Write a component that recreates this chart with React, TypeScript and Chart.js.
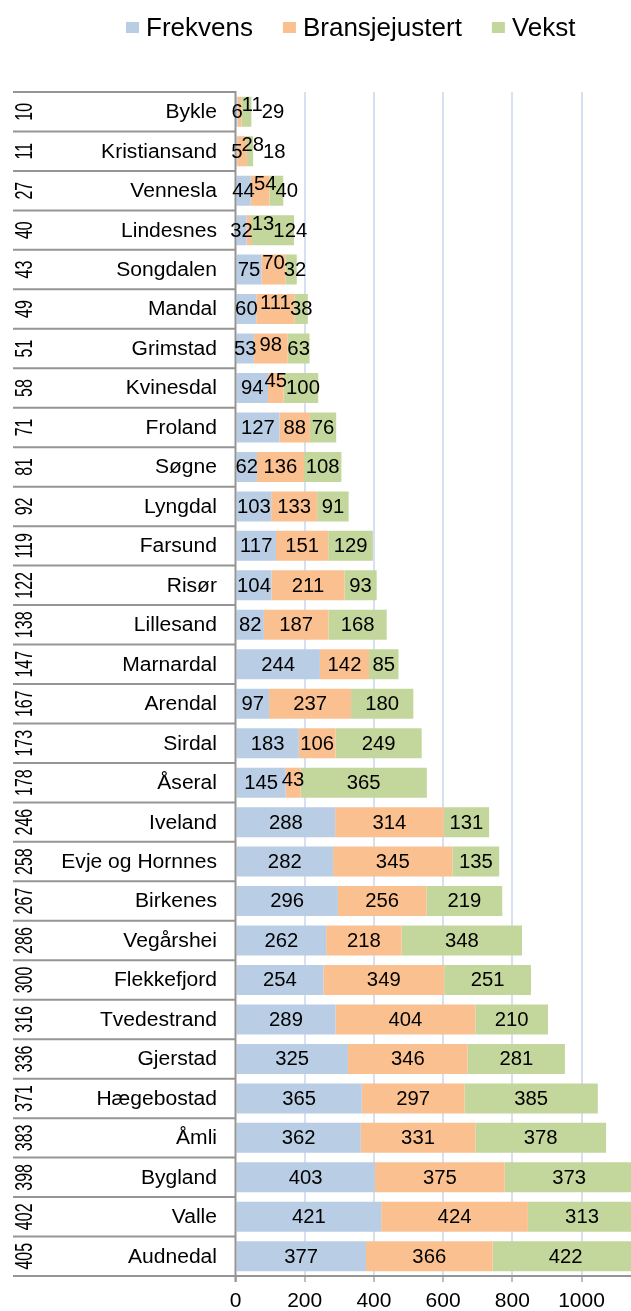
import React, { useEffect, useRef } from 'react';
import { Chart, registerables } from 'chart.js';

Chart.register(...registerables);

const ranks = [10, 11, 27, 40, 43, 49, 51, 58, 71, 81, 92, 119, 122, 138, 147, 167, 173, 178, 246, 258, 267, 286, 300, 316, 336, 371, 383, 398, 402, 405];
const names = ['Bykle', 'Kristiansand', 'Vennesla', 'Lindesnes', 'Songdalen', 'Mandal', 'Grimstad', 'Kvinesdal', 'Froland', 'Søgne', 'Lyngdal', 'Farsund', 'Risør', 'Lillesand', 'Marnardal', 'Arendal', 'Sirdal', 'Åseral', 'Iveland', 'Evje og Hornnes', 'Birkenes', 'Vegårshei', 'Flekkefjord', 'Tvedestrand', 'Gjerstad', 'Hægebostad', 'Åmli', 'Bygland', 'Valle', 'Audnedal'];
const frekvens = [6, 5, 44, 32, 75, 60, 53, 94, 127, 62, 103, 117, 104, 82, 244, 97, 183, 145, 288, 282, 296, 262, 254, 289, 325, 365, 362, 403, 421, 377];
const bransjejustert = [11, 28, 54, 13, 70, 111, 98, 45, 88, 136, 133, 151, 211, 187, 142, 237, 106, 43, 314, 345, 256, 218, 349, 404, 346, 297, 331, 375, 424, 366];
const vekst = [29, 18, 40, 124, 32, 38, 63, 100, 76, 108, 91, 129, 93, 168, 85, 180, 249, 365, 131, 135, 219, 348, 251, 210, 281, 385, 378, 373, 313, 422];
const seriesNames = ['Frekvens', 'Bransjejustert', 'Vekst'];
const seriesColors = ['#b9cde5', '#fac090', '#c3d69b'];
const xTickValues = [0, 200, 400, 600, 800, 1000];

const FONT = "'Liberation Sans', Arial, Helvetica, sans-serif";
const LINE_GREY = '#959595';
const LABEL_SIZE = 19.5;
const LABEL_SX = 1.04;

function drawScaledText(ctx: CanvasRenderingContext2D, text: string, x: number, y: number, size: number, sx: number, align: CanvasTextAlign, baseline: CanvasTextBaseline) {
  ctx.save();
  ctx.font = `${size}px ${FONT}`;
  ctx.textAlign = align;
  ctx.textBaseline = baseline;
  ctx.translate(x, y);
  ctx.scale(sx, 1);
  ctx.fillText(text, 0, 0);
  ctx.restore();
}

const tablePlugin = {
  id: 'tablePlugin',
  afterDraw(chart: any) {
    const ctx: CanvasRenderingContext2D = chart.ctx;
    const { top, bottom, left } = chart.chartArea;
    const n = names.length;
    const pitch = (bottom - top) / n;
    const allData = [frekvens, bransjejustert, vekst];

    ctx.save();
    // legend
    let lx = 126;
    const ly = 36;
    for (let d = 0; d < seriesNames.length; d++) {
      ctx.fillStyle = seriesColors[d];
      ctx.fillRect(lx, 22, 13, 11);
      ctx.fillStyle = '#000';
      const tx = lx + 20;
      drawScaledText(ctx, seriesNames[d], tx, ly, 25, 1.04, 'left', 'alphabetic');
      ctx.font = `25px ${FONT}`;
      const w = ctx.measureText(seriesNames[d]).width * 1.04;
      lx = tx + w + 30;
    }

    // separators
    ctx.strokeStyle = LINE_GREY;
    ctx.lineWidth = 2;
    for (let k = 0; k <= n; k++) {
      const y = top + k * pitch;
      ctx.beginPath();
      ctx.moveTo(13, y);
      ctx.lineTo(k === n ? chart.width : left, y);
      ctx.stroke();
    }
    ctx.beginPath();
    ctx.moveTo(left, top - 1);
    ctx.lineTo(left, bottom + 6);
    ctx.stroke();

    // category labels
    ctx.fillStyle = '#000';
    for (let i = 0; i < n; i++) {
      const yc = top + (i + 0.5) * pitch;
      drawScaledText(ctx, names[i], 217, yc + 1, 19.5, 1.08, 'right', 'middle');
      ctx.save();
      ctx.font = `16px ${FONT}`;
      ctx.textAlign = 'center';
      ctx.textBaseline = 'middle';
      ctx.translate(26, yc);
      ctx.rotate(-Math.PI / 2);
      ctx.scale(1, 1.45);
      ctx.fillText(String(ranks[i]), 0, 0);
      ctx.restore();
    }

    // data labels
    ctx.font = `${LABEL_SIZE}px ${FONT}`;
    for (let i = 0; i < n; i++) {
      const items = [0, 1, 2].map((d) => {
        const el = chart.getDatasetMeta(d).data[i];
        const p = el.getProps(['x', 'base', 'y'], true);
        const text = String(allData[d][i]);
        const w = ctx.measureText(text).width * LABEL_SX;
        return { c: (p.x + p.base) / 2, w, text, y: p.y };
      });
      const g1 = (items[1].c - items[1].w / 2) - (items[0].c + items[0].w / 2);
      const g2 = (items[2].c - items[2].w / 2) - (items[1].c + items[1].w / 2);
      const mg = Math.min(g1, g2);
      const raise = mg < -3 ? 7 : mg < 2 ? 6 : mg < 5 ? 3.5 : 0;
      const xs = items.map((it) => it.c);
      const gap = -1;
      for (let k = 1; k < 3; k++) {
        const prevRight = xs[k - 1] + items[k - 1].w / 2;
        if (xs[k] - items[k].w / 2 < prevRight + gap) xs[k] = prevRight + gap + items[k].w / 2;
      }
      for (let k = 0; k < 3; k++) {
        const y = items[k].y + 1 - (k === 1 ? raise : 0);
        drawScaledText(ctx, items[k].text, xs[k], y, LABEL_SIZE, LABEL_SX, 'center', 'middle');
      }
    }
    ctx.restore();
  },
};

export default function App() {
  const canvasRef = useRef<HTMLCanvasElement | null>(null);

  useEffect(() => {
    const canvas = canvasRef.current;
    if (!canvas) return;
    const chart = new Chart(canvas, {
      type: 'bar',
      data: {
        labels: names,
        datasets: [
          { label: seriesNames[0], data: frekvens, backgroundColor: seriesColors[0], borderWidth: 0 },
          { label: seriesNames[1], data: bransjejustert, backgroundColor: seriesColors[1], borderWidth: 0 },
          { label: seriesNames[2], data: vekst, backgroundColor: seriesColors[2], borderWidth: 0 },
        ],
      },
      options: {
        indexAxis: 'y',
        responsive: false,
        animation: false,
        devicePixelRatio: 1,
        datasets: { bar: { barPercentage: 0.76, categoryPercentage: 1.0 } },
        layout: { padding: { left: 235.5, top: 92, right: 0, bottom: 0 } },
        plugins: { legend: { display: false }, tooltip: { enabled: false } },
        scales: {
          y: { type: 'category', stacked: true, display: false },
          x: {
            type: 'linear',
            stacked: true,
            min: 0,
            max: 1143,
            afterBuildTicks: (scale: any) => {
              scale.ticks = xTickValues.map((v) => ({ value: v }));
            },
            afterFit: (scale: any) => {
              scale.height = 35;
            },
            border: { display: false },
            grid: {
              color: (c: any) => (c.tick && c.tick.value === 0 ? 'rgba(0,0,0,0)' : '#d5e0f0'),
              lineWidth: 2,
              tickLength: 6,
              tickColor: '#a8a8a8',
              tickWidth: 1.5,
            },
            ticks: {
              color: '#000',
              font: { family: FONT, size: 21 },
              padding: 7,
              maxRotation: 0,
              autoSkip: false,
              callback: (v: any) => String(v),
            },
          },
        },
      },
      plugins: [tablePlugin],
    });
    return () => chart.destroy();
  }, []);

  return (
    <div style={{ position: 'absolute', left: 0, top: 0, width: 631, height: 1311 }}>
      <canvas ref={canvasRef} width={631} height={1311} style={{ width: 631, height: 1311, display: 'block' }} />
    </div>
  );
}
